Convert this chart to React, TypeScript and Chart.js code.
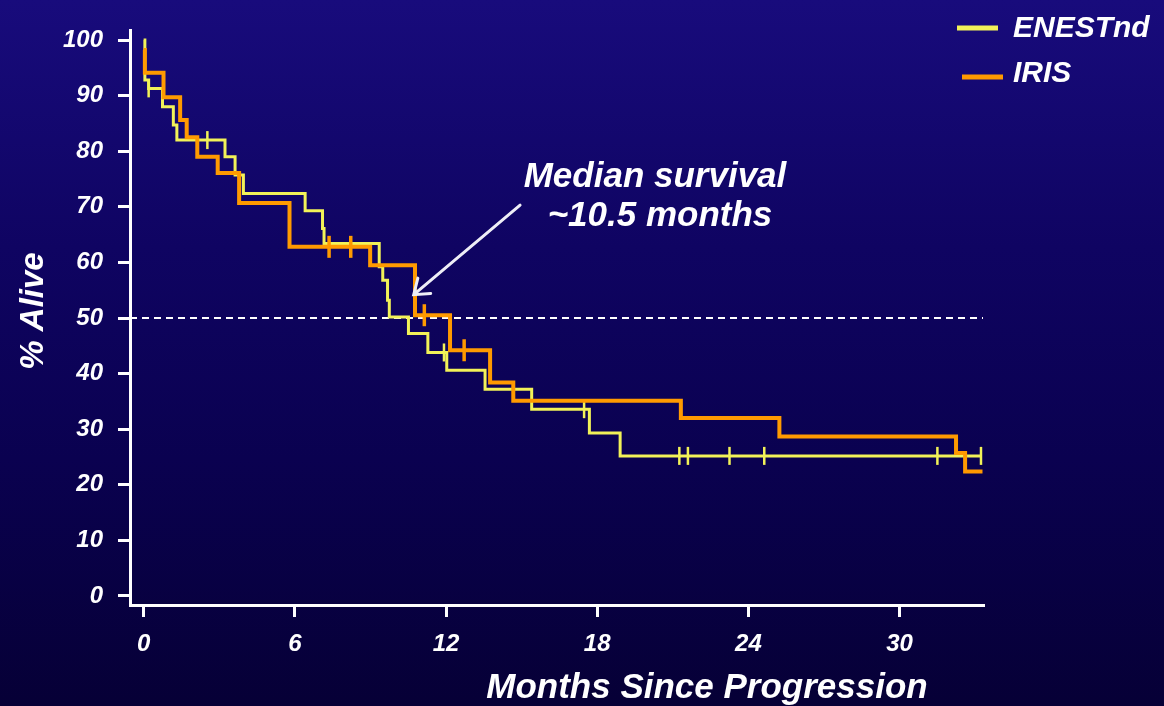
import React, { useEffect, useRef } from 'react';
import { Chart, registerables } from 'chart.js';

Chart.register(...registerables);

// ---- axis ranges & ticks ----
const X_MIN = -0.54;
const X_MAX = 33.31;
const Y_MIN = -1.62;
const Y_MAX = 101.8;
const xTickValues = [0, 6, 12, 18, 24, 30];
const yTickValues = [0, 10, 20, 30, 40, 50, 60, 70, 80, 90, 100];

// ---- series ----
const seriesNames = ['ENESTnd', 'IRIS'];

const enestTimes = [0, 0.05, 0.2, 0.75, 1.18, 1.32, 3.23, 3.63, 3.96, 6.41, 7.1, 7.16, 9.35, 9.49, 9.68, 9.75, 10.51, 11.28, 12.03, 13.55, 15.4, 17.69, 18.91, 33.26];
const enestSurvival = [100, 92.8, 91.3, 88.0, 84.7, 82.0, 79.0, 75.7, 72.4, 69.3, 66.1, 63.4, 59.2, 56.8, 53.2, 50.2, 47.2, 43.8, 40.6, 37.2, 33.6, 29.3, 25.2, 25.2];
const enestCensorTimes = [0.2, 2.53, 11.92, 17.48, 21.26, 21.6, 23.25, 24.63, 31.5, 33.23];
const enestCensorSurvival = [91.3, 82.0, 43.8, 33.6, 25.2, 25.2, 25.2, 25.2, 25.2, 25.2];

const irisTimes = [0, 0.05, 0.79, 1.45, 1.71, 2.13, 2.94, 3.79, 5.79, 8.99, 10.77, 12.16, 13.75, 14.67, 21.32, 25.23, 32.24, 32.6, 33.29];
const irisSurvival = [98.2, 94.1, 89.7, 85.6, 82.5, 79.0, 76.1, 70.7, 62.8, 59.5, 50.5, 44.2, 38.4, 35.1, 32.0, 28.7, 25.7, 22.4, 22.4];
const irisCensorTimes = [7.36, 8.22, 11.14, 12.72];
const irisCensorSurvival = [62.8, 62.8, 50.5, 44.2];

const medianLevel = 50;

// annotation (data coordinates)
const arrowTail = { x: 14.94, y: 70.3 };
const arrowTip = { x: 10.72, y: 54.2 };
const annotationLines = ['Median survival', '~10.5 months'];

const YELLOW = '#f2f258';
const ORANGE = '#ff9a00';
const FONT = '"Liberation Sans", Arial, Helvetica, sans-serif';

const toPoints = (xs: number[], ys: number[]) => xs.map((x, i) => ({ x, y: ys[i] }));

const overlayPlugin = {
  id: 'overlay',
  afterDraw(chart: any) {
    const { ctx, scales } = chart;
    const xs = scales.x;
    const ys = scales.y;
    ctx.save();
    ctx.fillStyle = '#ffffff';
    ctx.strokeStyle = '#ffffff';

    // axis titles
    ctx.font = `italic bold 35px ${FONT}`;
    ctx.textAlign = 'center';
    ctx.textBaseline = 'alphabetic';
    ctx.fillText('Months Since Progression', 707, 698);
    ctx.save();
    ctx.translate(43, 311);
    ctx.rotate(-Math.PI / 2);
    ctx.font = `italic bold 33px ${FONT}`;
    ctx.fillText('% Alive', 0, 0);
    ctx.restore();

    // annotation text
    ctx.font = `italic bold 35px ${FONT}`;
    ctx.fillText(annotationLines[0], 655, 187);
    ctx.fillText(annotationLines[1], 660, 226);

    // arrow
    const x1 = xs.getPixelForValue(arrowTail.x);
    const y1 = ys.getPixelForValue(arrowTail.y);
    const x2 = xs.getPixelForValue(arrowTip.x);
    const y2 = ys.getPixelForValue(arrowTip.y);
    ctx.strokeStyle = '#eeeef6';
    ctx.lineWidth = 3;
    ctx.lineCap = 'round';
    ctx.beginPath();
    ctx.moveTo(x1, y1);
    ctx.lineTo(x2, y2);
    const ang = Math.atan2(y1 - y2, x1 - x2);
    const len = 17;
    const spread = (36 * Math.PI) / 180;
    ctx.moveTo(x2 + Math.cos(ang - spread) * len, y2 + Math.sin(ang - spread) * len);
    ctx.lineTo(x2, y2);
    ctx.lineTo(x2 + Math.cos(ang + spread) * len, y2 + Math.sin(ang + spread) * len);
    ctx.stroke();

    // legend
    ctx.lineCap = 'butt';
    ctx.lineWidth = 5;
    ctx.strokeStyle = YELLOW;
    ctx.beginPath();
    ctx.moveTo(957, 28);
    ctx.lineTo(998, 28);
    ctx.stroke();
    ctx.strokeStyle = ORANGE;
    ctx.beginPath();
    ctx.moveTo(962, 77);
    ctx.lineTo(1003, 77);
    ctx.stroke();
    ctx.fillStyle = '#ffffff';
    ctx.font = `italic bold 30px ${FONT}`;
    ctx.textAlign = 'left';
    ctx.fillText(seriesNames[0], 1013, 37);
    ctx.fillText(seriesNames[1], 1013, 82);
    ctx.restore();
  },
};

export default function App() {
  const canvasRef = useRef<HTMLCanvasElement | null>(null);

  useEffect(() => {
    if (!canvasRef.current) return;
    const tickFont = { family: FONT, size: 24, weight: 'bold' as const, style: 'italic' as const };
    const chart = new Chart(canvasRef.current, {
      type: 'line',
      data: {
        datasets: [
          {
            label: seriesNames[1] + ' censored',
            data: toPoints(irisCensorTimes, irisCensorSurvival),
            showLine: false,
            pointStyle: 'line',
            rotation: 90,
            pointRadius: 11,
            pointBorderWidth: 3.5,
            pointBorderColor: ORANGE,
            pointBackgroundColor: ORANGE,
            order: 0,
          },
          {
            label: seriesNames[1],
            data: toPoints(irisTimes, irisSurvival),
            stepped: 'before',
            borderColor: ORANGE,
            borderWidth: 4,
            pointRadius: 0,
            fill: false,
            order: 1,
          },
          {
            label: seriesNames[0] + ' censored',
            data: toPoints(enestCensorTimes, enestCensorSurvival),
            showLine: false,
            pointStyle: 'line',
            rotation: 90,
            pointRadius: 9,
            pointBorderWidth: 2.5,
            pointBorderColor: YELLOW,
            pointBackgroundColor: YELLOW,
            order: 2,
          },
          {
            label: seriesNames[0],
            data: toPoints(enestTimes, enestSurvival),
            stepped: 'before',
            borderColor: YELLOW,
            borderWidth: 3,
            pointRadius: 0,
            fill: false,
            order: 3,
          },
          {
            label: 'median',
            data: [
              { x: X_MIN, y: medianLevel },
              { x: X_MAX, y: medianLevel },
            ],
            borderColor: '#ffffff',
            borderWidth: 2,
            borderDash: [7, 5],
            pointRadius: 0,
            fill: false,
            order: 4,
          },
        ],
      },
      options: {
        animation: false,
        responsive: false,
        devicePixelRatio: 1,
        layout: { padding: { left: 0, top: 30, right: 181, bottom: 0 } },
        plugins: {
          legend: { display: false },
          title: { display: false },
          tooltip: { enabled: false },
        },
        scales: {
          x: {
            type: 'linear',
            min: X_MIN,
            max: X_MAX,
            afterBuildTicks: (scale: any) => {
              scale.ticks = xTickValues.map((v) => ({ value: v }));
            },
            afterFit: (scale: any) => {
              scale.height = 101;
            },
            grid: {
              display: true,
              drawOnChartArea: false,
              drawTicks: true,
              tickLength: 12,
              color: '#ffffff',
              lineWidth: 3,
            },
            border: { display: true, color: '#ffffff', width: 3 },
            ticks: {
              color: '#ffffff',
              font: tickFont,
              padding: 13,
              autoSkip: false,
              maxRotation: 0,
              callback: (v: any) => String(v),
            },
          },
          y: {
            type: 'linear',
            min: Y_MIN,
            max: Y_MAX,
            afterBuildTicks: (scale: any) => {
              scale.ticks = yTickValues.map((v) => ({ value: v }));
            },
            afterFit: (scale: any) => {
              scale.width = 130;
            },
            grid: {
              display: true,
              drawOnChartArea: false,
              drawTicks: true,
              tickLength: 12,
              color: '#ffffff',
              lineWidth: 3,
            },
            border: { display: true, color: '#ffffff', width: 3 },
            ticks: {
              color: '#ffffff',
              font: tickFont,
              padding: 15,
              autoSkip: false,
              callback: (v: any) => String(v),
            },
          },
        },
      },
      plugins: [overlayPlugin],
    });
    return () => chart.destroy();
  }, []);

  return (
    <div
      style={{
        position: 'fixed',
        left: 0,
        top: 0,
        width: 1164,
        height: 706,
        background: 'linear-gradient(180deg, #180b7c 0%, #0f0462 35%, #0a0150 65%, #060036 100%)',
      }}
    >
      <canvas ref={canvasRef} width={1164} height={706} style={{ display: 'block' }} />
    </div>
  );
}
